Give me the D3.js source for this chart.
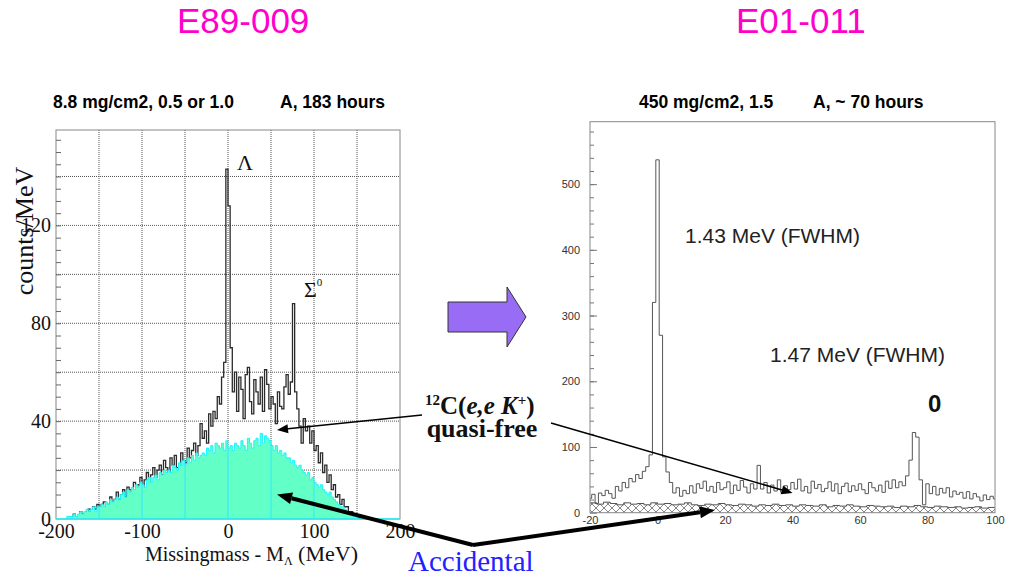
<!DOCTYPE html>
<html>
<head>
<meta charset="utf-8">
<script src="https://cdn.jsdelivr.net/npm/d3@7"></script>
<style>
  body { margin: 0; background: #fff; }
  svg { display: block; }
</style>
</head>
<body>
<div id="chart"></div>
<script>
// E89-009 spectrum, 2.5 MeV bins ---------------------------------------------------------------
const leftBinWidth = 2.5;
const leftTotalStart = -185;
const leftTotal = [
  1, 0, 2, 1, 1, 3, 2, 2,           // -185
  3, 4, 2, 5, 4, 6, 3, 6,           // -165
  7, 5, 6, 9, 7, 8, 11, 8,          // -145
  10, 12, 9, 13, 12, 10, 15, 13,    // -125
  14, 17, 13, 16, 19, 15, 18, 21,   // -105
  17, 20, 22, 18, 24, 21, 19, 25,   // -85
  22, 26, 21, 20, 27, 24, 23, 29,   // -65
  25, 28, 31, 26, 30, 39, 33, 36,   // -45
  31, 43, 38, 44, 41, 50, 47, 58,   // -25
  64, 143, 128, 70, 52, 60, 44, 58, // -5
  53, 41, 59, 62, 48, 43, 57, 52,   // 15
  47, 58, 44, 61, 55, 45, 50, 47,   // 35
  39, 52, 46, 45, 54, 59, 51, 56,   // 55
  88, 52, 45, 38, 31, 41, 36, 38,   // 75
  31, 36, 28, 30, 23, 27, 19, 22,   // 95
  15, 18, 12, 14, 9, 10, 6, 8,      // 115
  5, 5, 3, 3, 2, 2, 1, 0            // 135
];
const leftAccStart = -190;
const leftAcc = [
  0, 1, 1, 1, 2, 1, 2, 3,           // -190
  2, 3, 4, 3, 4, 5, 3, 5,           // -170
  5, 6, 5, 7, 6, 8, 7, 8,           // -150
  9, 8, 10, 11, 9, 12, 11, 13,      // -130
  12, 14, 13, 15, 14, 13, 16, 17,   // -110
  15, 17, 18, 16, 19, 18, 20, 19,   // -90
  20, 19, 22, 21, 20, 23, 22, 24,   // -70
  22, 25, 23, 26, 24, 27, 25, 26,   // -50
  27, 26, 29, 28, 30, 27, 31, 30,   // -30
  29, 31, 28, 32, 29, 30, 28, 31,   // -10
  30, 29, 32, 30, 28, 33, 31, 29,   // 10
  32, 33, 30, 35, 31, 34, 33, 32,   // 30
  30, 28, 30, 27, 28, 26, 27, 25,   // 50
  25, 23, 24, 22, 21, 22, 20, 19,   // 70
  18, 19, 16, 17, 15, 14, 13, 14,   // 90
  12, 11, 10, 11, 9, 8, 7, 6,       // 110
  5, 5, 4, 3, 2, 2, 1, 1, 0         // 130
];
const leftXTicks = [-200, -100, 0, 100, 200];
const leftYTicks = [0, 40, 80, 120];

// E01-011 spectrum, 1 MeV bins centred on integers -----------------------------------------------
const rightBinWidth = 1;
const rightTotalStart = -20.5;
const rightTotal = [
  22, 28, 14, 30, 26, 34, 29, 22, 40, 33,   // -20
  46, 38, 52, 47, 58, 52, 63, 70, 88, 320,  // -10
  537, 270, 85, 62, 46, 30, 38, 25, 34, 29, // 0
  41, 30, 44, 37, 48, 33, 40, 31, 46, 35,   // 10
  38, 47, 29, 42, 34, 49, 39, 30, 44, 36,   // 20
  72, 36, 46, 30, 42, 33, 50, 31, 41, 35,   // 30
  46, 36, 51, 33, 40, 30, 48, 37, 43, 32,   // 40
  37, 47, 33, 44, 29, 40, 45, 32, 41, 34,   // 50
  44, 35, 29, 46, 38, 33, 42, 31, 48, 37,   // 60
  50, 38, 47, 41, 56, 80, 122, 115, 50, 12, // 70
  44, 29, 40, 27, 37, 30, 38, 24, 33, 28,   // 80
  31, 22, 32, 21, 29, 24, 18, 27, 20, 25, 21 // 90
];
const rightAccStart = -20;
const rightAccWidth = 2;
const rightAcc = [
  15, 13, 16, 14, 12, 15, 13, 14, 12, 15, // -20
  13, 14, 12, 13, 15, 12, 11, 13, 12, 14, // 0
  12, 11, 13, 12, 10, 12, 11, 13, 11, 12, // 20
  10, 12, 11, 10, 12, 9, 11, 10, 12, 10,  // 40
  9, 11, 10, 9, 10, 8, 10, 9, 11, 9,      // 60
  8, 10, 9, 8, 9, 7, 8, 9, 7, 8           // 80
];
const rightXTicks = [-20, 0, 20, 40, 60, 80, 100];
const rightYTicks = [0, 100, 200, 300, 400, 500];

// Canvas ----------------------------------------------------------------------------------------
const canvasWidth = 1009;
const canvasHeight = 578;
const serif = "'Liberation Serif', 'Times New Roman', serif";
const sans = "'Liberation Sans', Arial, Helvetica, sans-serif";

const svg = d3.select("#chart")
  .append("svg")
  .attr("width", canvasWidth)
  .attr("height", canvasHeight);

const defs = svg.append("defs");

// turn a list of bin contents into step points, with a closing point at the last edge
const toSteps = function(values, start, width) {
  const pts = values.map((v, i) => [start + i * width, v]);
  pts.push([start + values.length * width, values[values.length - 1]]);
  return pts;
};

// Left panel ------------------------------------------------------------------------------------
const xL = d3.scaleLinear().domain([-200, 200]).range([56, 400]);
const yL = d3.scaleLinear().domain([0, 159]).range([519, 130]);

const left = svg.append("g");

defs.append("clipPath").attr("id", "clipL")
  .append("rect")
  .attr("x", xL(-200)).attr("y", yL(159))
  .attr("width", xL(200) - xL(-200)).attr("height", yL(0) - yL(159));

// dotted grid
left.append("g")
  .selectAll("line")
  .data(d3.range(-150, 200, 50))
  .join("line")
  .attr("x1", d => xL(d)).attr("x2", d => xL(d))
  .attr("y1", yL(0)).attr("y2", yL(159))
  .style("stroke", "#555").style("stroke-width", 1).style("stroke-dasharray", "1,1");
left.append("g")
  .selectAll("line")
  .data(d3.range(20, 160, 20))
  .join("line")
  .attr("x1", xL(-200)).attr("x2", xL(200))
  .attr("y1", d => yL(d)).attr("y2", d => yL(d))
  .style("stroke", "#555").style("stroke-width", 1).style("stroke-dasharray", "1,1");

const leftPlot = left.append("g").attr("clip-path", "url(#clipL)");

const lineL = d3.line().x(d => xL(d[0])).y(d => yL(d[1])).curve(d3.curveStepAfter);
const areaL = d3.area().x(d => xL(d[0])).y0(yL(0)).y1(d => yL(d[1])).curve(d3.curveStepAfter);

leftPlot.append("path")
  .attr("d", lineL(toSteps(leftTotal, leftTotalStart, leftBinWidth)))
  .style("fill", "none")
  .style("stroke", "#2b2b2b")
  .style("stroke-width", 1.3);

const accSteps = toSteps(leftAcc, leftAccStart, leftBinWidth);
defs.append("clipPath").attr("id", "clipAcc")
  .append("path")
  .attr("d", areaL(accSteps));

leftPlot.append("path")
  .attr("d", areaL(accSteps))
  .style("fill", "#62ffc6")
  .style("stroke", "none");
leftPlot.append("path")
  .attr("d", lineL(accSteps))
  .style("fill", "none")
  .style("stroke", "#1cf4ff")
  .style("stroke-width", 1);

// grid lines shining through the accidental fill
leftPlot.append("g")
  .attr("clip-path", "url(#clipAcc)")
  .selectAll("line")
  .data(d3.range(-150, 200, 50))
  .join("line")
  .attr("x1", d => xL(d)).attr("x2", d => xL(d))
  .attr("y1", yL(0)).attr("y2", yL(159))
  .style("stroke", "#30e8ff").style("stroke-width", 1);

left.append("rect")
  .attr("x", xL(-200)).attr("y", yL(159))
  .attr("width", xL(200) - xL(-200)).attr("height", yL(0) - yL(159))
  .style("fill", "none").style("stroke", "#888").style("stroke-width", 1);
left.append("line")
  .attr("x1", xL(-200)).attr("x2", xL(200)).attr("y1", yL(0)).attr("y2", yL(0))
  .style("stroke", "#1cf4ff").style("stroke-width", 1.5);

// minor ticks pointing inwards
const yAxisMinorL = left.append("g")
  .attr("transform", "translate(" + xL(-200) + ",0)")
  .call(d3.axisLeft(yL).tickValues(d3.range(5, 160, 5)).tickSize(-5).tickFormat(""));
yAxisMinorL.select(".domain").remove();
yAxisMinorL.selectAll("line").style("stroke", "#666");

const yAxisL = left.append("g")
  .attr("transform", "translate(" + xL(-200) + ",0)")
  .call(d3.axisLeft(yL).tickValues(leftYTicks).tickSize(0).tickPadding(5).tickFormat(d => String(d)));
yAxisL.select(".domain").remove();
yAxisL.selectAll("text")
  .style("font-family", serif).style("font-size", "20px").style("fill", "#111");

const xAxisL = left.append("g")
  .attr("transform", "translate(0," + yL(0) + ")")
  .call(d3.axisBottom(xL).tickValues(leftXTicks).tickSize(0).tickPadding(5).tickFormat(d => String(d)));
xAxisL.select(".domain").remove();
xAxisL.selectAll("text")
  .style("font-family", serif).style("font-size", "20px").style("fill", "#111");

// axis titles
const xTitleL = left.append("text")
  .attr("x", 145).attr("y", 561)
  .style("font-family", serif).style("font-size", "20px").style("fill", "#111");
xTitleL.append("tspan").text("Missingmass - M");
xTitleL.append("tspan").text("\u039B").style("font-size", "12px").attr("dy", 4);
xTitleL.append("tspan").text(" (MeV)").style("font-size", "22px").attr("dy", -4);

left.append("text")
  .text("counts/MeV")
  .attr("transform", "translate(33,231) rotate(-90)")
  .style("text-anchor", "middle")
  .style("font-family", serif).style("font-size", "26px").style("fill", "#111");

left.append("text")
  .text("\u039B")
  .attr("x", 237).attr("y", 170)
  .style("font-family", serif).style("font-size", "22px").style("fill", "#111");
const sigmaL = left.append("text")
  .attr("x", 304).attr("y", 297)
  .style("font-family", serif).style("font-size", "22px").style("fill", "#111");
sigmaL.append("tspan").text("\u03A3");
sigmaL.append("tspan").text("0").style("font-size", "11px").attr("dy", -11);

left.append("text").text("8.8 mg/cm2, 0.5 or 1.0")
  .attr("x", 53).attr("y", 108)
  .style("font-family", sans).style("font-weight", "bold").style("font-size", "17.5px");
left.append("text").text("A, 183 hours")
  .attr("x", 280).attr("y", 108)
  .style("font-family", sans).style("font-weight", "bold").style("font-size", "17.5px");

// Right panel -----------------------------------------------------------------------------------
const xR = d3.scaleLinear().domain([-20, 100]).range([590, 995]);
const yR = d3.scaleLinear().domain([0, 595]).range([512.7, 121.7]);

const right = svg.append("g");

defs.append("clipPath").attr("id", "clipR")
  .append("rect")
  .attr("x", xR(-20)).attr("y", yR(595))
  .attr("width", xR(100) - xR(-20)).attr("height", yR(0) - yR(595));

const hatch = defs.append("pattern")
  .attr("id", "hatch")
  .attr("patternUnits", "userSpaceOnUse")
  .attr("width", 8).attr("height", 8);
hatch.append("path")
  .attr("d", "M0,0 L8,8 M8,0 L0,8")
  .style("stroke", "#666").style("stroke-width", 0.8);

const lineR = d3.line().x(d => xR(d[0])).y(d => yR(d[1])).curve(d3.curveStepAfter);
const areaR = d3.area().x(d => xR(d[0])).y0(yR(0)).y1(d => yR(d[1])).curve(d3.curveStepAfter);

const rightPlot = right.append("g").attr("clip-path", "url(#clipR)");
const accStepsR = toSteps(rightAcc, rightAccStart, rightAccWidth);
rightPlot.append("path")
  .attr("d", areaR(accStepsR))
  .style("fill", "url(#hatch)");
rightPlot.append("path")
  .attr("d", lineR(accStepsR))
  .style("fill", "none").style("stroke", "#555").style("stroke-width", 1);
rightPlot.append("path")
  .attr("d", lineR(toSteps(rightTotal, rightTotalStart, rightBinWidth)))
  .style("fill", "none").style("stroke", "#555").style("stroke-width", 1);

right.append("rect")
  .attr("x", xR(-20)).attr("y", yR(595))
  .attr("width", xR(100) - xR(-20)).attr("height", yR(0) - yR(595))
  .style("fill", "none").style("stroke", "#888").style("stroke-width", 1);

const yMinorR = right.append("g")
  .attr("transform", "translate(" + xR(-20) + ",0)")
  .call(d3.axisLeft(yR).tickValues(d3.range(20, 595, 20)).tickSize(-4).tickFormat(""));
yMinorR.select(".domain").remove();
yMinorR.selectAll("line").style("stroke", "#777");

const yAxisR = right.append("g")
  .attr("transform", "translate(" + xR(-20) + ",0)")
  .call(d3.axisLeft(yR).tickValues(rightYTicks).tickSize(-7).tickPadding(10).tickFormat(d => String(d)));
yAxisR.select(".domain").remove();
yAxisR.selectAll("line").style("stroke", "#777");
yAxisR.selectAll("text")
  .style("font-family", sans).style("font-size", "11px").style("fill", "#333");

const xAxisR = right.append("g")
  .attr("transform", "translate(0," + yR(0) + ")")
  .call(d3.axisBottom(xR).tickValues(rightXTicks).tickSize(0).tickPadding(4).tickFormat(d => String(d)));
xAxisR.select(".domain").remove();
xAxisR.selectAll("text")
  .style("font-family", sans).style("font-size", "11px").style("fill", "#333");

right.append("text").text("450 mg/cm2, 1.5")
  .attr("x", 639).attr("y", 108)
  .style("font-family", sans).style("font-weight", "bold").style("font-size", "17.5px");
right.append("text").text("A, ~ 70 hours")
  .attr("x", 813).attr("y", 108)
  .style("font-family", sans).style("font-weight", "bold").style("font-size", "17.5px");

right.append("text").text("1.43 MeV (FWHM)")
  .attr("x", 685).attr("y", 243)
  .style("font-family", sans).style("font-size", "21px").style("fill", "#222");
right.append("text").text("1.47 MeV (FWHM)")
  .attr("x", 770).attr("y", 362)
  .style("font-family", sans).style("font-size", "21px").style("fill", "#222");
right.append("text").text("0")
  .attr("x", 928).attr("y", 412)
  .style("font-family", sans).style("font-weight", "bold").style("font-size", "24px").style("fill", "#111");

// Titles and annotations ------------------------------------------------------------------------
svg.append("text").text("E89-009")
  .attr("x", 177).attr("y", 33)
  .style("font-family", sans).style("font-size", "35px").style("fill", "#ff00cc");
svg.append("text").text("E01-011")
  .attr("x", 736).attr("y", 33)
  .style("font-family", sans).style("font-size", "35px").style("fill", "#ff00cc");

// block arrow between the panels
const bx = 448, by = 317;
svg.append("path")
  .attr("d", d3.line()([
    [bx, by - 15], [bx + 59, by - 15], [bx + 59, by - 30], [bx + 78, by],
    [bx + 59, by + 30], [bx + 59, by + 15], [bx, by + 15]
  ]) + "Z")
  .style("fill", "#996cf5").style("stroke", "#333").style("stroke-width", 1);

const reaction = svg.append("text")
  .attr("x", 425).attr("y", 414)
  .style("font-family", serif).style("font-weight", "bold").style("font-size", "25px").style("fill", "#111");
reaction.append("tspan").text("12").style("font-size", "15px").attr("dy", -9);
reaction.append("tspan").text("C(").attr("dy", 9);
reaction.append("tspan").text("e,e  K").style("font-style", "italic");
reaction.append("tspan").text("+").style("font-size", "15px").attr("dy", -9);
reaction.append("tspan").text(")").attr("dy", 9);

svg.append("text").text("quasi-free")
  .attr("x", 482).attr("y", 437)
  .style("text-anchor", "middle")
  .style("font-family", serif).style("font-weight", "bold").style("font-size", "26px").style("fill", "#111");

svg.append("text").text("Accidental")
  .attr("x", 408).attr("y", 571)
  .style("font-family", serif).style("font-size", "29px").style("fill", "#2222ff");

// arrow helpers
const arrow = function(x1, y1, x2, y2, width, headLen, headHalf) {
  const ang = Math.atan2(y2 - y1, x2 - x1);
  const bxh = x2 - headLen * Math.cos(ang);
  const byh = y2 - headLen * Math.sin(ang);
  const g = svg.append("g");
  g.append("line")
    .attr("x1", x1).attr("y1", y1).attr("x2", bxh).attr("y2", byh)
    .style("stroke", "#000").style("stroke-width", width);
  g.append("path")
    .attr("d", d3.line()([
      [x2, y2],
      [bxh + headHalf * Math.sin(ang), byh - headHalf * Math.cos(ang)],
      [bxh - headHalf * Math.sin(ang), byh + headHalf * Math.cos(ang)]
    ]) + "Z")
    .style("fill", "#000");
};

// quasi-free arrows
arrow(422, 415, xL(57), yL(36.4), 1.5, 11, 4.5);
arrow(551, 423, xR(40), yR(30), 1.5, 11, 4.5);

// accidental arrows from a common vertex
const vx = 473, vy = 545;
arrow(vx, vy, xL(57), yL(10), 4, 15, 6);
arrow(vx, vy, xR(17), yR(4), 4, 15, 6);
</script>
</body>
</html>
